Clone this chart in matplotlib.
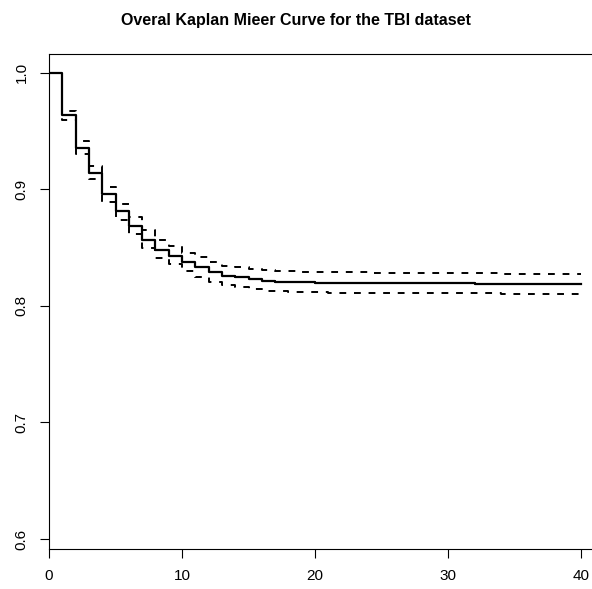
import matplotlib
matplotlib.use("Agg")
import matplotlib.pyplot as plt

plt.rcParams["font.family"] = ["Liberation Sans", "DejaVu Sans"]

# Kaplan-Meier estimate and 95% band
times = [0, 1, 2, 3, 4, 5, 6, 7, 8, 9, 10, 11, 12, 13, 14, 15, 16, 17,
         18, 19, 20, 21, 22, 24, 28, 30, 32, 34, 37, 40]
surv = [1.0, 0.9635, 0.9357, 0.9138, 0.8961, 0.8809, 0.8686, 0.8568,
        0.8482, 0.8431, 0.8373, 0.8330, 0.8293, 0.8259, 0.8244, 0.8230,
        0.8216, 0.8207, 0.8203, 0.8200, 0.8198, 0.8196, 0.8195, 0.8194,
        0.8193, 0.8192, 0.8191, 0.8190, 0.8189, 0.8189]
upper = [1.0, 0.9673, 0.9414, 0.9196, 0.9018, 0.8875, 0.8760, 0.8652,
         0.8565, 0.8510, 0.8454, 0.8416, 0.8379, 0.8345, 0.8330, 0.8316,
         0.8308, 0.8300, 0.8295, 0.8292, 0.8290, 0.8288, 0.8286, 0.8284,
         0.8282, 0.8280, 0.8278, 0.8276, 0.8274, 0.8274]
lower = [1.0, 0.9592, 0.9305, 0.9090, 0.8889, 0.8735, 0.8617, 0.8494,
         0.8410, 0.8359, 0.8296, 0.8250, 0.8207, 0.8179, 0.8158, 0.8144,
         0.8130, 0.8124, 0.8120, 0.8117, 0.8115, 0.8113, 0.8112, 0.8110,
         0.8108, 0.8107, 0.8106, 0.8104, 0.8102, 0.8102]

x_ticks = [0, 10, 20, 30, 40]
y_ticks = [0.6, 0.7, 0.8, 0.9, 1.0]

fig = plt.figure(figsize=(5.92, 5.89), dpi=100)
ax = fig.add_axes([49/592, 1-549/589, (602.3-49)/592, (549-53.5)/589])

ax.step(times, surv, where="post", color="black", lw=1.6)
ax.step(times, upper, where="post", color="black", lw=1.4,
        dashes=(3.5, 4))
ax.step(times, lower, where="post", color="black", lw=1.4,
        dashes=(3.5, 4))

ax.set_xlim(0, 41.6)
ax.set_ylim(0.5915, 1.0163)
ax.set_xticks(x_ticks)
ax.set_yticks(y_ticks)
ax.set_xticklabels([str(v) for v in x_ticks], fontsize=11)
ax.set_yticklabels(["%.1f" % v for v in y_ticks], fontsize=11,
                   rotation=90, va="center")
ax.tick_params(length=6.5, width=0.8, pad=8)
for s in ax.spines.values():
    s.set_linewidth(0.8)

fig.text(0.5, 1-21/589, "Overal Kaplan Mieer Curve for the TBI dataset",
         ha="center", va="center", fontsize=11.5, fontweight="bold")

fig.savefig("out.png", dpi=100)
